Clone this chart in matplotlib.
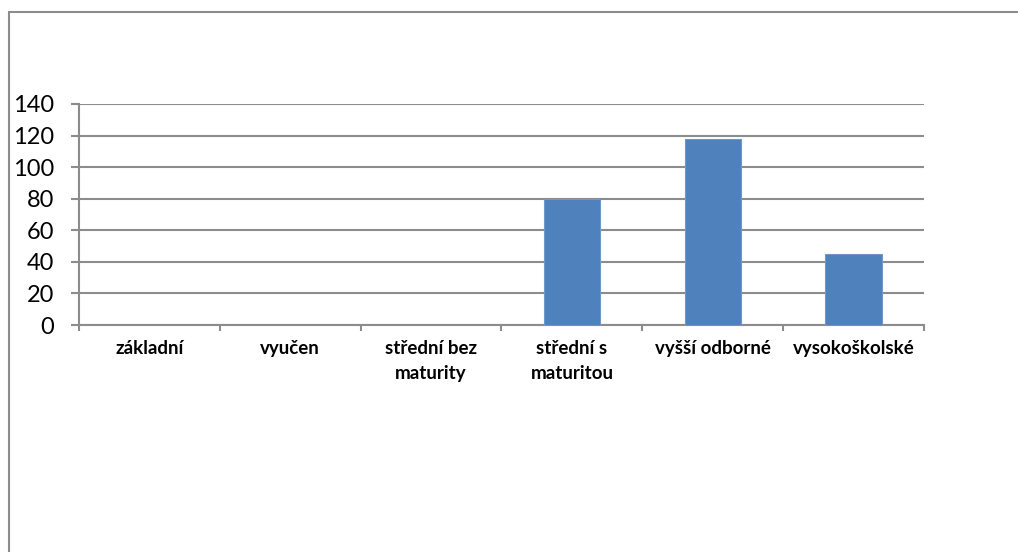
import numpy as np
import matplotlib
matplotlib.use("Agg")
import matplotlib.pyplot as plt
from matplotlib.patches import Rectangle

# Education level counts
categories = ["základní", "vyučen", "střední bez\nmaturity", "střední s\nmaturitou",
              "vyšší odborné", "vysokoškolské"]
values = [0, 0, 0, 80, 118, 45]
yticks = [0, 20, 40, 60, 80, 100, 120, 140]

plt.rcParams['font.family'] = ['Lato', 'DejaVu Sans']

grey = "#8c8c8c"
bar_color = "#4f81bd"

fig = plt.figure(figsize=(10.18, 5.52), dpi=100)

# outer chart frame (runs off the right and bottom edges)
fig.patches.append(Rectangle((9 / 1018, -0.1), 1.2, (552 - 12) / 552 + 0.1,
                             transform=fig.transFigure, fill=False,
                             edgecolor=grey, linewidth=1.5))

ax = fig.add_axes([79 / 1018, (552 - 325) / 552, (924 - 79) / 1018, (325 - 104) / 552])

x = np.arange(len(categories))
ax.bar(x, values, width=0.4, color=bar_color, edgecolor="#6f97c9", linewidth=0.8, zorder=3)

ax.set_xlim(-0.5, len(categories) - 0.5)
ax.set_ylim(0, 140)
ax.set_yticks(yticks)
ax.set_yticklabels([str(v) for v in yticks], fontsize=17)
ax.grid(axis='y', color=grey, linewidth=1.5, zorder=0)

# category labels centred, tick marks on the boundaries
ax.set_xticks(x)
ax.set_xticklabels(categories, fontsize=13.5, fontweight='bold', linespacing=1.55)
ax.set_xticks(np.arange(-0.5, len(categories)), minor=True)
ax.tick_params(axis='x', which='major', length=0, pad=11)
ax.tick_params(axis='x', which='minor', length=4.3, width=1.5, color=grey, direction='out')
ax.tick_params(axis='y', length=5.8, width=1.5, color=grey, direction='out', pad=12)

for side in ['top', 'right']:
    ax.spines[side].set_visible(False)
for side in ['left', 'bottom']:
    ax.spines[side].set_color(grey)
    ax.spines[side].set_linewidth(1.5)

fig.savefig("out.png", dpi=100)
